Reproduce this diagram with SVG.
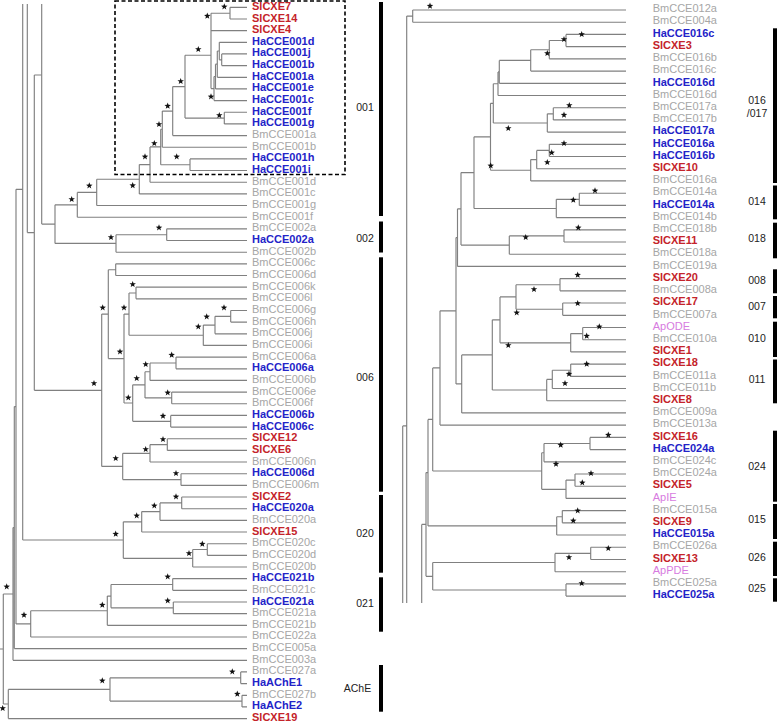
<svg xmlns="http://www.w3.org/2000/svg" xmlns:xlink="http://www.w3.org/1999/xlink" width="778" height="723" viewBox="0 0 778 723">
<style>
.l{fill:none;stroke:#808080;stroke-width:1.15}
text{font-family:"Liberation Sans",Arial,sans-serif;font-size:11px}
.r{fill:#c4232a;font-weight:bold}
.b{fill:#2323c8;font-weight:bold}
.g{fill:#a6a6a6}
.v{fill:#d77be0}
.c{font-size:10.5px;fill:#222;text-anchor:middle}
.bar{fill:#000}
.st{fill:#111}
</style>
<defs>
<path id="s" d="M0,-3.4L0.82,-1.13L3.23,-1.05L1.33,0.43L2,2.75L0,1.4L-2,2.75L-1.33,0.43L-3.23,-1.05L-0.82,-1.13Z"/>
</defs>
<rect x="0" y="0" width="778" height="723" fill="#fff"/>
<g id="connectors" class="l">
<path d="M230 7.3V19M230 7.3H247M230 19H247M211 13.2V30.6M211 13.2H230M211 30.6H247M221.7 53.9V65.6M221.7 53.9H247M221.7 65.6H247M219.3 42.3V59.8M219.3 42.3H247M219.3 59.8H221.7M217.3 51V77.3M217.3 51H219.3M217.3 77.3H247M215.5 64.2V88.9M215.5 64.2H217.3M215.5 88.9H247M214 76.5V100.6M214 76.5H215.5M214 100.6H247M211 21.9V88.6M211 88.6H214M224.3 112.2V123.9M224.3 112.2H247M224.3 123.9H247M185 55.2V118.1M185 55.2H211M185 118.1H224.3M172.7 86.6V135.6M172.7 86.6H185M172.7 135.6H247M162.3 111.1V147.2M162.3 111.1H172.7M162.3 147.2H247M190 158.9V170.5M190 158.9H247M190 170.5H247M160.7 129.2V164.7M160.7 129.2H162.3M160.7 164.7H190M150 146.9V182.2M150 146.9H160.7M150 182.2H247M139.3 164.6V193.9M139.3 164.6H150M139.3 193.9H247M96.7 179.2V205.5M96.7 179.2H139.3M96.7 205.5H247M77.3 192.4V217.2M77.3 192.4H96.7M77.3 217.2H247M166.7 228.8V240.5M166.7 228.8H247M166.7 240.5H247M116 234.7V252.2M116 234.7H166.7M116 252.2H247M55 204.8V243.4M55 204.8H77.3M55 243.4H116M41.7 4V224.1M41.7 224.1H55"/>
<path d="M115.7 263.8V275.5M115.7 263.8H247M115.7 275.5H247M136 287.1V298.8M136 287.1H247M136 298.8H247M230.7 310.5V322.1M230.7 310.5H247M230.7 322.1H247M215 316.3V333.8M215 316.3H230.7M215 333.8H247M203.3 325.1V345.4M203.3 325.1H215M203.3 345.4H247M129 293V335.2M129 293H136M129 335.2H203.3M176 357.1V368.8M176 357.1H247M176 368.8H247M150 363V380.4M150 363H176M150 380.4H247M171.7 392.1V403.7M171.7 392.1H247M171.7 403.7H247M145 371.7V397.9M145 371.7H150M145 397.9H171.7M170.7 415.4V427.1M170.7 415.4H247M170.7 427.1H247M132.7 384.8V421.3M132.7 384.8H145M132.7 421.3H170.7M124 314.1V403M124 314.1H129M124 403H132.7M108.3 269.7V358.6M108.3 269.7H115.7M108.3 358.6H124M167.3 438.7V450.4M167.3 438.7H247M167.3 450.4H247M150 444.6V462M150 444.6H167.3M150 462H247M181 473.7V485.4M181 473.7H247M181 485.4H247M122.7 453.3V479.6M122.7 453.3H150M122.7 479.6H181M101.7 314.1V466.4M101.7 314.1H108.3M101.7 466.4H122.7M34.3 75V390.3M34.3 75H41.7M34.3 390.3H101.7M27.3 4V232.6M27.3 232.6H34.3"/>
<path d="M181.7 497V508.7M181.7 497H247M181.7 508.7H247M160 502.9V520.3M160 502.9H181.7M160 520.3H247M141.7 511.6V532M141.7 511.6H160M141.7 532H247M207.3 543.7V555.3M207.3 543.7H247M207.3 555.3H247M192.7 549.5V567M192.7 549.5H207.3M192.7 567H247M123.3 521.8V558.3M123.3 521.8H141.7M123.3 558.3H192.7M22.7 4V540M22.7 540H123.3M16 189.3V623.9M16 189.3H22.7M16 623.9H30.7M172.7 578.6V590.3M172.7 578.6H247M172.7 590.3H247M173.3 602V613.6M173.3 602H247M173.3 613.6H247M111 584.5V607.8M111 584.5H172.7M111 607.8H173.3M107.3 596.1V625.3M107.3 596.1H111M107.3 625.3H247M30.7 610.7V637M30.7 610.7H107.3M30.7 637H247M14.3 406.6V648.6M14.3 406.6H16M14.3 648.6H247M13 527.6V660.3M13 527.6H14.3M13 660.3H247M240.7 671.9V683.6M240.7 671.9H247M240.7 683.6H247M242 695.3V706.9M242 695.3H247M242 706.9H247M110 677.8V701.1M110 677.8H240.7M110 701.1H242M8.3 689.4V718.6M8.3 689.4H110M8.3 718.6H247M3.3 594V704M3.3 594H13M3.3 704H8.3M0 649H3.3"/>
<path d="M412.7 10V22.2M412.7 10H626M412.7 22.2H626M406.7 16.1V603M406.7 16.1H412.7M402.7 425.9V603M402.7 425.9H406.7M421.7 524.4V603M421.7 524.4H426M566 34.4V46.6M566 34.4H626M566 46.6H626M549.3 40.5V58.8M549.3 40.5H566M549.3 58.8H626M530.7 49.7V71.1M530.7 49.7H549.3M530.7 71.1H626M499.3 60.4V83.3M499.3 60.4H530.7M499.3 83.3H626M498 71.9V95.5M498 71.9H499.3M498 95.5H626M553.3 107.7V119.9M553.3 107.7H626M553.3 119.9H626M547.3 113.8V132.1M547.3 113.8H553.3M547.3 132.1H626M493.3 83.7V123M493.3 83.7H498M493.3 123H547.3M549.3 144.3V156.5M549.3 144.3H626M549.3 156.5H626M536.7 150.4V168.7M536.7 150.4H549.3M536.7 168.7H626M530.7 159.6V180.9M530.7 159.6H536.7M530.7 180.9H626M490.5 103.3V170.2M490.5 103.3H493.3M490.5 170.2H530.7M579.3 193.2V205.4M579.3 193.2H626M579.3 205.4H626M556.3 199.3V217.6M556.3 199.3H579.3M556.3 217.6H626M474 136.8V208.5M474 136.8H490.5M474 208.5H556.3M564 229.8V242M564 229.8H626M564 242H626M509.3 235.9V254.2M509.3 235.9H564M509.3 254.2H626M461 172.6V245.1M461 172.6H474M461 245.1H509.3M457.5 208.8V266.4M457.5 208.8H461M457.5 266.4H626"/>
<path d="M560 278.6V290.8M560 278.6H626M560 290.8H626M562.7 303V315.3M562.7 303H626M562.7 315.3H626M516 284.7V309.2M516 284.7H560M516 309.2H562.7M582.7 327.5V339.7M582.7 327.5H626M582.7 339.7H626M570.7 333.6V351.9M570.7 333.6H582.7M570.7 351.9H626M500 296.9V342.8M500 296.9H516M500 342.8H570.7M570.7 364.1V376.3M570.7 364.1H626M570.7 376.3H626M552.3 370.2V388.5M552.3 370.2H570.7M552.3 388.5H626M546.7 379.4V400.7M546.7 379.4H552.3M546.7 400.7H626M492.3 319.8V390M492.3 319.8H500M492.3 390H546.7M461.7 354.9V412.9M461.7 354.9H492.3M461.7 412.9H626M456 237.6V383.9M456 237.6H457.5M456 383.9H461.7M440 310.8V425.1M440 310.8H456M440 425.1H626M590 437.4V449.6M590 437.4H626M590 449.6H626M544 443.5V461.8M544 443.5H590M544 461.8H626M575 474V486.2M575 474H626M575 486.2H626M566 480.1V498.4M566 480.1H575M566 498.4H626M541.7 452.7V489.3M541.7 452.7H544M541.7 489.3H566M432.7 367.9V471M432.7 367.9H440M432.7 471H541.7M562.3 510.6V522.8M562.3 510.6H626M562.3 522.8H626M556.7 516.7V535M556.7 516.7H562.3M556.7 535H626M428 419.4V525.9M428 419.4H432.7M428 525.9H556.7M590.7 547.2V559.5M590.7 547.2H626M590.7 559.5H626M555 553.4V571.7M555 553.4H590.7M555 571.7H626M566 583.9V596.1M566 583.9H626M566 596.1H626M432.7 562.5V590M432.7 562.5H555M432.7 590H566M426 472.6V576.3M426 472.6H428M426 576.3H432.7"/>
</g>
<g id="stars" class="st">
<use href="#s" x="224.3" y="6.7"/><use href="#s" x="207.3" y="16"/><use href="#s" x="198.3" y="49.3"/><use href="#s" x="180.7" y="81.3"/><use href="#s" x="211" y="96.7"/><use href="#s" x="167.7" y="106"/><use href="#s" x="219.3" y="115.3"/><use href="#s" x="159" y="124.3"/><use href="#s" x="154.3" y="143.3"/><use href="#s" x="145" y="156.7"/><use href="#s" x="176.7" y="156.7"/><use href="#s" x="132.7" y="185.5"/><use href="#s" x="89.3" y="185.7"/><use href="#s" x="71.7" y="199.3"/><use href="#s" x="159" y="227.7"/><use href="#s" x="111" y="237.3"/>
<use href="#s" x="132.7" y="284.3"/><use href="#s" x="224" y="307.7"/><use href="#s" x="206.7" y="316.7"/><use href="#s" x="198.3" y="326.7"/><use href="#s" x="124" y="307.7"/><use href="#s" x="102.7" y="307.7"/><use href="#s" x="120" y="351.7"/><use href="#s" x="171.7" y="355"/><use href="#s" x="145.7" y="364.3"/><use href="#s" x="136.7" y="378.3"/><use href="#s" x="167.7" y="392.7"/><use href="#s" x="128.3" y="397.7"/><use href="#s" x="163" y="416"/><use href="#s" x="94" y="383.3"/><use href="#s" x="163" y="439.3"/><use href="#s" x="145.7" y="449.3"/><use href="#s" x="115.7" y="458.3"/><use href="#s" x="176" y="473.3"/>
<use href="#s" x="176" y="496.7"/><use href="#s" x="154.3" y="505.7"/><use href="#s" x="136.7" y="515.7"/><use href="#s" x="115.7" y="534"/><use href="#s" x="202.3" y="544"/><use href="#s" x="189" y="553.3"/><use href="#s" x="167.7" y="576.7"/><use href="#s" x="167.7" y="600.7"/><use href="#s" x="102.3" y="605"/><use href="#s" x="24" y="615"/><use href="#s" x="6.7" y="586.7"/><use href="#s" x="2.7" y="708.3"/><use href="#s" x="102.3" y="680.7"/><use href="#s" x="232.3" y="671.7"/><use href="#s" x="237.3" y="694"/>
<use href="#s" x="430" y="6"/><use href="#s" x="581.7" y="34.3"/><use href="#s" x="564" y="39.3"/><use href="#s" x="547.3" y="53.3"/><use href="#s" x="569.3" y="105.3"/><use href="#s" x="564" y="115"/><use href="#s" x="508.3" y="128.3"/><use href="#s" x="564" y="143.3"/><use href="#s" x="551.7" y="152.7"/><use href="#s" x="547.3" y="162.3"/><use href="#s" x="490.7" y="165.7"/>
<use href="#s" x="595" y="190.7"/><use href="#s" x="573.3" y="200"/><use href="#s" x="578.3" y="227.7"/><use href="#s" x="525.7" y="237.3"/><use href="#s" x="577.7" y="275"/><use href="#s" x="534" y="289.3"/><use href="#s" x="577.7" y="303.3"/><use href="#s" x="516.7" y="312.7"/><use href="#s" x="599.3" y="326.7"/><use href="#s" x="586.7" y="336"/><use href="#s" x="508.3" y="345.3"/>
<use href="#s" x="586.7" y="364"/><use href="#s" x="569" y="374"/><use href="#s" x="565" y="383.3"/><use href="#s" x="608.3" y="435"/><use href="#s" x="560.7" y="445"/><use href="#s" x="556" y="464"/><use href="#s" x="591" y="473.3"/><use href="#s" x="582.3" y="482.7"/><use href="#s" x="577.7" y="510.7"/><use href="#s" x="573.3" y="520.7"/><use href="#s" x="608.3" y="548.3"/><use href="#s" x="569" y="557.3"/><use href="#s" x="581.7" y="583.3"/>
</g>
<rect id="box001" x="115" y="1" width="230" height="173.5" fill="none" stroke="#000" stroke-width="1.6" stroke-dasharray="4 2.5"/>
<g id="left-leaves">
<g id="SlCXE7"><text x="252" y="9.8" class="r">SlCXE7</text></g>
<g id="SlCXE14"><text x="252" y="21.5" class="r">SlCXE14</text></g>
<g id="SlCXE4"><text x="252" y="33.1" class="r">SlCXE4</text></g>
<g id="HaCCE001d"><text x="252" y="44.8" class="b">HaCCE001d</text></g>
<g id="HaCCE001j"><text x="252" y="56.4" class="b">HaCCE001j</text></g>
<g id="HaCCE001b"><text x="252" y="68.1" class="b">HaCCE001b</text></g>
<g id="HaCCE001a"><text x="252" y="79.8" class="b">HaCCE001a</text></g>
<g id="HaCCE001e"><text x="252" y="91.4" class="b">HaCCE001e</text></g>
<g id="HaCCE001c"><text x="252" y="103.1" class="b">HaCCE001c</text></g>
<g id="HaCCE001f"><text x="252" y="114.7" class="b">HaCCE001f</text></g>
<g id="HaCCE001g"><text x="252" y="126.4" class="b">HaCCE001g</text></g>
<g id="BmCCE001a"><text x="252" y="138.1" class="g">BmCCE001a</text></g>
<g id="BmCCE001b"><text x="252" y="149.7" class="g">BmCCE001b</text></g>
<g id="HaCCE001h"><text x="252" y="161.4" class="b">HaCCE001h</text></g>
<g id="HaCCE001i"><text x="252" y="173" class="b">HaCCE001i</text></g>
<g id="BmCCE001d"><text x="252" y="184.7" class="g">BmCCE001d</text></g>
<g id="BmCCE001c"><text x="252" y="196.4" class="g">BmCCE001c</text></g>
<g id="BmCCE001g"><text x="252" y="208" class="g">BmCCE001g</text></g>
<g id="BmCCE001f"><text x="252" y="219.7" class="g">BmCCE001f</text></g>
<g id="BmCCE002a"><text x="252" y="231.3" class="g">BmCCE002a</text></g>
<g id="HaCCE002a"><text x="252" y="243" class="b">HaCCE002a</text></g>
<g id="BmCCE002b"><text x="252" y="254.7" class="g">BmCCE002b</text></g>
<g id="BmCCE006c"><text x="252" y="266.3" class="g">BmCCE006c</text></g>
<g id="BmCCE006d"><text x="252" y="278" class="g">BmCCE006d</text></g>
<g id="BmCCE006k"><text x="252" y="289.6" class="g">BmCCE006k</text></g>
<g id="BmCCE006l"><text x="252" y="301.3" class="g">BmCCE006l</text></g>
<g id="BmCCE006g"><text x="252" y="313" class="g">BmCCE006g</text></g>
<g id="BmCCE006h"><text x="252" y="324.6" class="g">BmCCE006h</text></g>
<g id="BmCCE006j"><text x="252" y="336.3" class="g">BmCCE006j</text></g>
<g id="BmCCE006i"><text x="252" y="347.9" class="g">BmCCE006i</text></g>
<g id="BmCCE006a"><text x="252" y="359.6" class="g">BmCCE006a</text></g>
<g id="HaCCE006a"><text x="252" y="371.3" class="b">HaCCE006a</text></g>
<g id="BmCCE006b"><text x="252" y="382.9" class="g">BmCCE006b</text></g>
<g id="BmCCE006e"><text x="252" y="394.6" class="g">BmCCE006e</text></g>
<g id="BmCCE006f"><text x="252" y="406.2" class="g">BmCCE006f</text></g>
<g id="HaCCE006b"><text x="252" y="417.9" class="b">HaCCE006b</text></g>
<g id="HaCCE006c"><text x="252" y="429.6" class="b">HaCCE006c</text></g>
<g id="SlCXE12"><text x="252" y="441.2" class="r">SlCXE12</text></g>
<g id="SlCXE6"><text x="252" y="452.9" class="r">SlCXE6</text></g>
<g id="BmCCE006n"><text x="252" y="464.5" class="g">BmCCE006n</text></g>
<g id="HaCCE006d"><text x="252" y="476.2" class="b">HaCCE006d</text></g>
<g id="BmCCE006m"><text x="252" y="487.9" class="g">BmCCE006m</text></g>
<g id="SlCXE2"><text x="252" y="499.5" class="r">SlCXE2</text></g>
<g id="HaCCE020a"><text x="252" y="511.2" class="b">HaCCE020a</text></g>
<g id="BmCCE020a"><text x="252" y="522.8" class="g">BmCCE020a</text></g>
<g id="SlCXE15"><text x="252" y="534.5" class="r">SlCXE15</text></g>
<g id="BmCCE020c"><text x="252" y="546.2" class="g">BmCCE020c</text></g>
<g id="BmCCE020d"><text x="252" y="557.8" class="g">BmCCE020d</text></g>
<g id="BmCCE020b"><text x="252" y="569.5" class="g">BmCCE020b</text></g>
<g id="HaCCE021b"><text x="252" y="581.1" class="b">HaCCE021b</text></g>
<g id="BmCCE021c"><text x="252" y="592.8" class="g">BmCCE021c</text></g>
<g id="HaCCE021a"><text x="252" y="604.5" class="b">HaCCE021a</text></g>
<g id="BmCCE021a"><text x="252" y="616.1" class="g">BmCCE021a</text></g>
<g id="BmCCE021b"><text x="252" y="627.8" class="g">BmCCE021b</text></g>
<g id="BmCCE022a"><text x="252" y="639.4" class="g">BmCCE022a</text></g>
<g id="BmCCE005a"><text x="252" y="651.1" class="g">BmCCE005a</text></g>
<g id="BmCCE003a"><text x="252" y="662.8" class="g">BmCCE003a</text></g>
<g id="BmCCE027a"><text x="252" y="674.4" class="g">BmCCE027a</text></g>
<g id="HaAChE1"><text x="252" y="686.1" class="b">HaAChE1</text></g>
<g id="BmCCE027b"><text x="252" y="697.7" class="g">BmCCE027b</text></g>
<g id="HaAChE2"><text x="252" y="709.4" class="b">HaAChE2</text></g>
<g id="SlCXE19"><text x="252" y="721.1" class="r">SlCXE19</text></g>
</g>
<g id="right-leaves">
<g id="BmCCE012a"><text x="652.7" y="12.2" class="g">BmCCE012a</text></g>
<g id="BmCCE004a"><text x="652.7" y="24.4" class="g">BmCCE004a</text></g>
<g id="HaCCE016c"><text x="652.7" y="36.6" class="b">HaCCE016c</text></g>
<g id="SlCXE3"><text x="652.7" y="48.8" class="r">SlCXE3</text></g>
<g id="BmCCE016b"><text x="652.7" y="61" class="g">BmCCE016b</text></g>
<g id="BmCCE016c"><text x="652.7" y="73.3" class="g">BmCCE016c</text></g>
<g id="HaCCE016d"><text x="652.7" y="85.5" class="b">HaCCE016d</text></g>
<g id="BmCCE016d"><text x="652.7" y="97.7" class="g">BmCCE016d</text></g>
<g id="BmCCE017a"><text x="652.7" y="109.9" class="g">BmCCE017a</text></g>
<g id="BmCCE017b"><text x="652.7" y="122.1" class="g">BmCCE017b</text></g>
<g id="HaCCE017a"><text x="652.7" y="134.3" class="b">HaCCE017a</text></g>
<g id="HaCCE016a"><text x="652.7" y="146.5" class="b">HaCCE016a</text></g>
<g id="HaCCE016b"><text x="652.7" y="158.7" class="b">HaCCE016b</text></g>
<g id="SlCXE10"><text x="652.7" y="170.9" class="r">SlCXE10</text></g>
<g id="BmCCE016a"><text x="652.7" y="183.1" class="g">BmCCE016a</text></g>
<g id="BmCCE014a"><text x="652.7" y="195.4" class="g">BmCCE014a</text></g>
<g id="HaCCE014a"><text x="652.7" y="207.6" class="b">HaCCE014a</text></g>
<g id="BmCCE014b"><text x="652.7" y="219.8" class="g">BmCCE014b</text></g>
<g id="BmCCE018b"><text x="652.7" y="232" class="g">BmCCE018b</text></g>
<g id="SlCXE11"><text x="652.7" y="244.2" class="r">SlCXE11</text></g>
<g id="BmCCE018a"><text x="652.7" y="256.4" class="g">BmCCE018a</text></g>
<g id="BmCCE019a"><text x="652.7" y="268.6" class="g">BmCCE019a</text></g>
<g id="SlCXE20"><text x="652.7" y="280.8" class="r">SlCXE20</text></g>
<g id="BmCCE008a"><text x="652.7" y="293" class="g">BmCCE008a</text></g>
<g id="SlCXE17"><text x="652.7" y="305.2" class="r">SlCXE17</text></g>
<g id="BmCCE007a"><text x="652.7" y="317.5" class="g">BmCCE007a</text></g>
<g id="ApODE"><text x="652.7" y="329.7" class="v">ApODE</text></g>
<g id="BmCCE010a"><text x="652.7" y="341.9" class="g">BmCCE010a</text></g>
<g id="SlCXE1"><text x="652.7" y="354.1" class="r">SlCXE1</text></g>
<g id="SlCXE18"><text x="652.7" y="366.3" class="r">SlCXE18</text></g>
<g id="BmCCE011a"><text x="652.7" y="378.5" class="g">BmCCE011a</text></g>
<g id="BmCCE011b"><text x="652.7" y="390.7" class="g">BmCCE011b</text></g>
<g id="SlCXE8"><text x="652.7" y="402.9" class="r">SlCXE8</text></g>
<g id="BmCCE009a"><text x="652.7" y="415.1" class="g">BmCCE009a</text></g>
<g id="BmCCE013a"><text x="652.7" y="427.3" class="g">BmCCE013a</text></g>
<g id="SlCXE16"><text x="652.7" y="439.6" class="r">SlCXE16</text></g>
<g id="HaCCE024a"><text x="652.7" y="451.8" class="b">HaCCE024a</text></g>
<g id="BmCCE024c"><text x="652.7" y="464" class="g">BmCCE024c</text></g>
<g id="BmCCE024a"><text x="652.7" y="476.2" class="g">BmCCE024a</text></g>
<g id="SlCXE5"><text x="652.7" y="488.4" class="r">SlCXE5</text></g>
<g id="ApIE"><text x="652.7" y="500.6" class="v">ApIE</text></g>
<g id="BmCCE015a"><text x="652.7" y="512.8" class="g">BmCCE015a</text></g>
<g id="SlCXE9"><text x="652.7" y="525" class="r">SlCXE9</text></g>
<g id="HaCCE015a"><text x="652.7" y="537.2" class="b">HaCCE015a</text></g>
<g id="BmCCE026a"><text x="652.7" y="549.4" class="g">BmCCE026a</text></g>
<g id="SlCXE13"><text x="652.7" y="561.7" class="r">SlCXE13</text></g>
<g id="ApPDE"><text x="652.7" y="573.9" class="v">ApPDE</text></g>
<g id="BmCCE025a"><text x="652.7" y="586.1" class="g">BmCCE025a</text></g>
<g id="HaCCE025a"><text x="652.7" y="598.3" class="b">HaCCE025a</text></g>
</g>
<g id="clade-bars" class="bar">
<rect x="379" y="2" width="4" height="214"/>
<rect x="379" y="221.5" width="4" height="31"/>
<rect x="379" y="257.3" width="4" height="234.4"/>
<rect x="379" y="495" width="4" height="77.7"/>
<rect x="379" y="577.3" width="4" height="54.4"/>
<rect x="379" y="665" width="4" height="46.7"/>
<rect x="773" y="28.3" width="4" height="154.7"/>
<rect x="773" y="185.5" width="4" height="33.8"/>
<rect x="773" y="222.7" width="4" height="35.6"/>
<rect x="773" y="269.3" width="4" height="24"/>
<rect x="773" y="296" width="4" height="22.3"/>
<rect x="773" y="321.7" width="4" height="35.3"/>
<rect x="773" y="359.5" width="4" height="43.8"/>
<rect x="773" y="430.7" width="4" height="71"/>
<rect x="773" y="504" width="4" height="35"/>
<rect x="773" y="541.7" width="4" height="34.3"/>
<rect x="773" y="578.3" width="4" height="23.4"/>
</g>
<g id="clade-labels">
<text class="c" x="365" y="110.5">001</text>
<text class="c" x="365" y="242">002</text>
<text class="c" x="365" y="380.5">006</text>
<text class="c" x="365" y="537">020</text>
<text class="c" x="365" y="607">021</text>
<text class="c" x="357.5" y="691.5">AChE</text>
<text class="c" x="757" y="103.8">016</text>
<text class="c" x="757" y="116.5">/017</text>
<text class="c" x="757" y="204.5">014</text>
<text class="c" x="757" y="242">018</text>
<text class="c" x="757" y="283.8">008</text>
<text class="c" x="757" y="309.8">007</text>
<text class="c" x="757" y="342">010</text>
<text class="c" x="757" y="382.8">011</text>
<text class="c" x="757" y="469.8">024</text>
<text class="c" x="757" y="523">015</text>
<text class="c" x="757" y="561">026</text>
<text class="c" x="757" y="592">025</text>
</g>
</svg>
